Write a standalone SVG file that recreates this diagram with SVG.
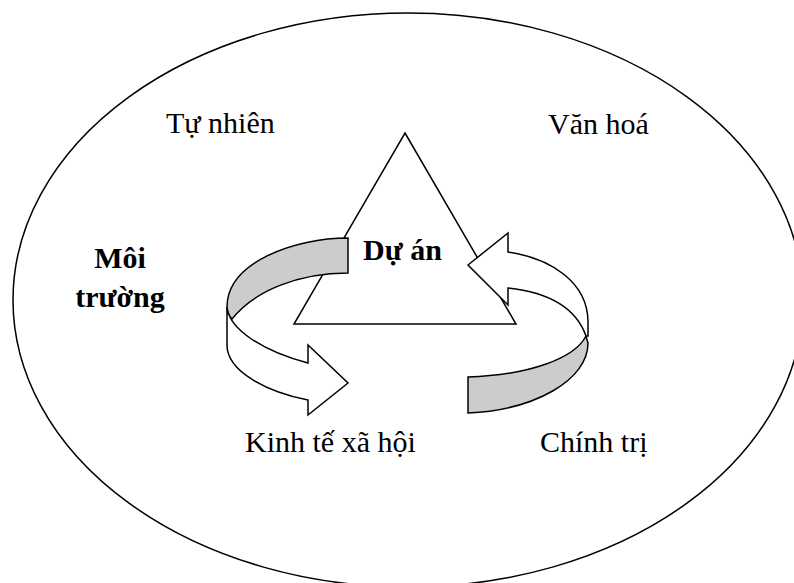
<svg xmlns="http://www.w3.org/2000/svg" width="794" height="583" viewBox="0 0 794 583">
  <style>
    .line { fill: none; stroke: #000; stroke-width: 1.5; }
    .shape { fill: #fff; stroke: #000; stroke-width: 1.5; stroke-linejoin: miter; }
    .back { fill: #cccccc; stroke: #000; stroke-width: 1.5; stroke-linejoin: miter; }
    .label { font-family: "Liberation Serif", "Times New Roman", serif; font-size: 30px; fill: #000; }
    .bold { font-weight: bold; }
  </style>

  <!-- Outer environment boundary -->
  <g id="environment">
    <ellipse class="line" cx="408" cy="300" rx="395" ry="287"/>
    <text class="label bold" x="120" y="268" text-anchor="middle">Môi</text>
    <text class="label bold" x="120" y="307" text-anchor="middle">trường</text>
  </g>

  <!-- Environment factors -->
  <g id="factor-nature">
    <text class="label" x="166" y="133">Tự nhiên</text>
  </g>
  <g id="factor-culture">
    <text class="label" x="548" y="134">Văn hoá</text>
  </g>
  <g id="factor-socioeconomic">
    <text class="label" x="245" y="452">Kinh tế xã hội</text>
  </g>
  <g id="factor-politics">
    <text class="label" x="540" y="452">Chính trị</text>
  </g>

  <!-- Project at the centre -->
  <g id="project">
    <polygon class="shape" points="405,133 516,324 294,324"/>
    <text class="label bold" x="363" y="260">Dự án</text>
  </g>

  <!-- Curved ribbon arrows circling the project -->
  <g id="connectors">
    <g id="arrow-out">
      <path class="back" d="M348,238 C295,238 227,262 227,307 C227,312 229,316 232,319 C255,290 300,273 348,273 Z"/>
      <path class="shape" d="M227,307 C229,330 265,352 308,363 L308,345 L348,383 L308,415 L308,400 C268,392 227,372 227,345 Z"/>
    </g>
    <g id="arrow-in">
      <path class="back" d="M586,336 C575,358 530,375 468,377 L468,413 C535,410 588,380 588,343 Z"/>
      <path class="shape" d="M508,252 C550,258 588,282 588,322 L588,336 L586,336 C575,305 545,292 508,288 L508,305 L468,265 L508,233 Z"/>
    </g>
  </g>
</svg>
